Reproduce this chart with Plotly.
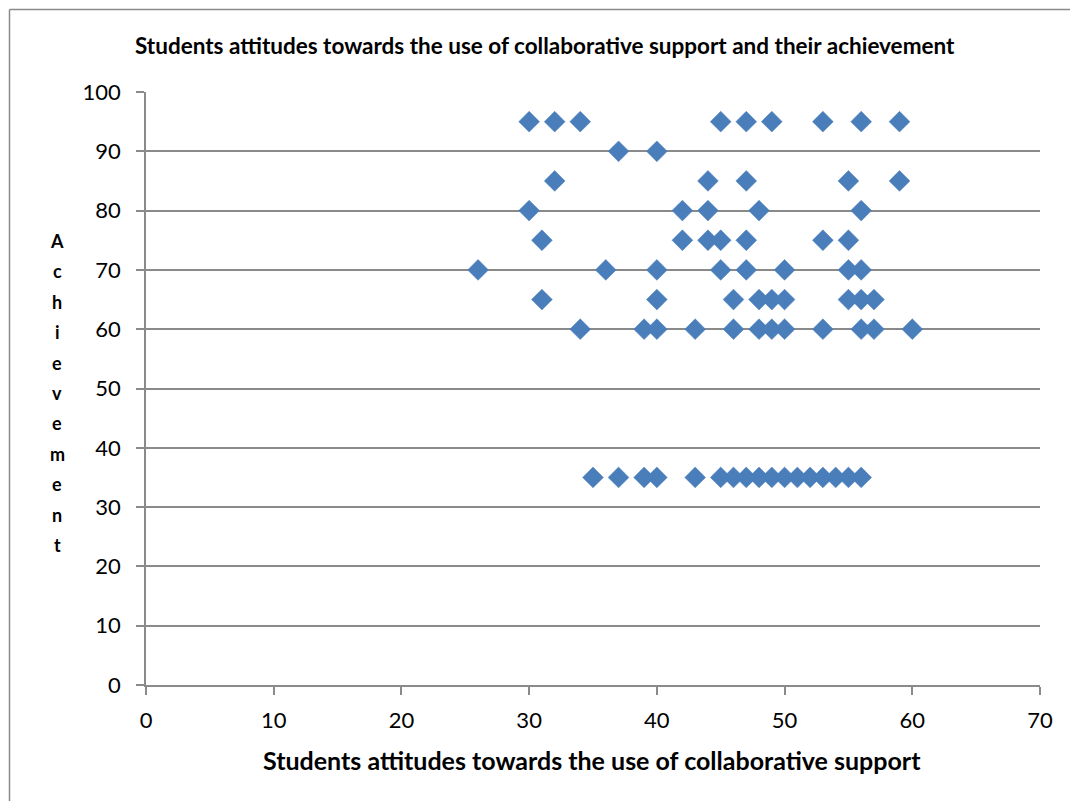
import plotly.graph_objects as go

# Data (attitude score, achievement)
attitude = [
    30, 32, 34, 45, 47, 49, 53, 56, 59,            # 95
    37, 40,                                        # 90
    32, 44, 47, 55, 59,                            # 85
    30, 42, 44, 48, 56,                            # 80
    31, 42, 44, 45, 47, 53, 55,                    # 75
    26, 36, 40, 45, 47, 50, 55, 56,                # 70
    31, 40, 46, 48, 49, 50, 55, 56, 57,            # 65
    34, 39, 40, 43, 46, 48, 49, 50, 53, 56, 57, 60,  # 60
    35, 37, 39, 40, 43, 45, 46, 47, 48, 49, 50, 51, 52, 53, 54, 55, 56,  # 35
]
achievement = (
    [95] * 9 + [90] * 2 + [85] * 5 + [80] * 5 + [75] * 7 + [70] * 8
    + [65] * 9 + [60] * 12 + [35] * 17
)

title_text = "Students attitudes towards the use of collaborative support and their achievement"
x_title = "Students attitudes towards the use of collaborative support"
y_title = "Achievement"
x_ticks = [0, 10, 20, 30, 40, 50, 60, 70]
y_ticks = [0, 10, 20, 30, 40, 50, 60, 70, 80, 90, 100]

GRAY = "#8a8a8a"
FONT = "Lato"

fig = go.Figure()
fig.add_trace(go.Scatter(
    x=attitude, y=achievement, mode="markers",
    marker=dict(symbol="diamond", size=16, color="#4a7ebb",
                line=dict(width=0.5, color="#4a7ebb")),
    showlegend=False,
))

W, H = 1070, 801
L, R, T, B = 146, 30, 92, 116
pw, ph = W - L - R, H - T - B

def px_x(px):
    return (px - L) / pw

def px_y(py):
    return (H - B - py) / ph

annotations = [
    dict(text="<b>" + title_text + "</b>", x=px_x(545), y=px_y(45),
         xref="paper", yref="paper", showarrow=False,
         font=dict(family=FONT, size=22.5, color="black"),
         xanchor="center", yanchor="middle"),
    dict(text="<b>" + x_title + "</b>", x=px_x(592), y=px_y(760),
         xref="paper", yref="paper", showarrow=False,
         font=dict(family=FONT, size=25, color="black"),
         xanchor="center", yanchor="middle"),
]
for i, ch in enumerate(y_title):
    annotations.append(dict(
        text="<b>" + ch + "</b>", x=px_x(57), y=px_y(241 + i * 30.4),
        xref="paper", yref="paper", showarrow=False,
        font=dict(family=FONT, size=18, color="black"),
        xanchor="center", yanchor="middle"))

shapes = [
    dict(type="line", xref="paper", yref="paper",
         x0=px_x(9.5), x1=px_x(9.5), y0=px_y(9.5), y1=px_y(820),
         line=dict(color=GRAY, width=1.5)),
    dict(type="line", xref="paper", yref="paper",
         x0=px_x(9.5), x1=px_x(1080), y0=px_y(9.5), y1=px_y(9.5),
         line=dict(color=GRAY, width=1.5)),
]

fig.update_layout(
    width=W, height=H,
    margin=dict(l=L, r=R, t=T, b=B),
    paper_bgcolor="white", plot_bgcolor="white",
    font=dict(family=FONT, size=22, color="black"),
    annotations=annotations, shapes=shapes,
    xaxis=dict(range=[0, 70], tickvals=x_ticks, showgrid=False,
               showline=True, linecolor=GRAY, linewidth=1.5,
               ticks="outside", ticklen=8, tickcolor=GRAY, tickwidth=1.5,
               zeroline=False, fixedrange=True, ticklabelstandoff=7),
    yaxis=dict(range=[0, 100], tickvals=y_ticks, showgrid=True,
               gridcolor=GRAY, gridwidth=1.5,
               showline=True, linecolor=GRAY, linewidth=1.5,
               ticks="outside", ticklen=8, tickcolor=GRAY, tickwidth=1.5,
               zeroline=False, fixedrange=True, ticklabelstandoff=11),
)

fig.write_html(
    "out.html",
    config={"displayModeBar": False},
    post_script="document.body.style.margin='0';document.body.style.overflow='hidden';",
)
